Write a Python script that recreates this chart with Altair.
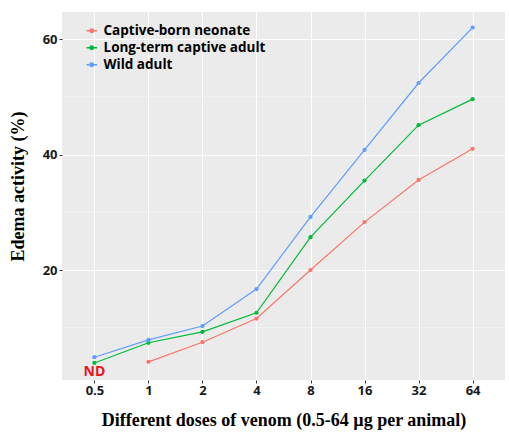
import altair as alt
import pandas as pd

# Venom doses (µg per animal) and edema activity (%) for each group
doses = ["0.5", "1", "2", "4", "8", "16", "32", "64"]
neonate = [None, 4.1, 7.5, 11.6, 20.0, 28.3, 35.6, 41.0]
captive_adult = [3.9, 7.4, 9.3, 12.6, 25.7, 35.5, 45.1, 49.6]
wild_adult = [4.9, 7.9, 10.3, 16.7, 29.2, 40.8, 52.4, 62.0]

groups = ["Captive-born neonate", "Long-term captive adult", "Wild adult"]
colors = ["#F8766D", "#00BA38", "#619CFF"]

minor_grid = [10, 30, 50]
major_ticks = [20, 40, 60]

rows = []
for name, vals in zip(groups, [neonate, captive_adult, wild_adult]):
    for d, v in zip(doses, vals):
        if v is not None:
            rows.append({"dose": d, "edema": v, "group": name})
df = pd.DataFrame(rows)

nd_df = pd.DataFrame({"dose": ["0.5"], "edema": [2.4], "label": ["ND"]})
minor_df = pd.DataFrame({"y": minor_grid})

FONT = "Open Sans"
SERIF = "Liberation Serif"

x_enc = alt.X(
    "dose:O",
    sort=doses,
    scale=alt.Scale(type="point", padding=0.6),
    axis=alt.Axis(
        title="Different doses of venom (0.5-64 µg per animal)",
        labelAngle=0,
        labelFont=FONT,
        labelFontWeight="bold",
        labelFontSize=13,
        labelColor="#1a1a1a",
        labelPadding=1,
        tickSize=3,
        tickColor="#333333",
        domain=False,
        grid=True,
        gridColor="white",
        gridWidth=1.1,
        titleFont=SERIF,
        titleFontSize=18,
        titleFontWeight="bold",
        titleColor="black",
        titlePadding=14,
    ),
)
y_scale = alt.Scale(domain=[0.95, 64.7], nice=False, zero=False)
y_enc = alt.Y(
    "edema:Q",
    scale=y_scale,
    axis=alt.Axis(
        title="Edema activity (%)",
        values=major_ticks,
        labelFont=FONT,
        labelFontWeight="bold",
        labelFontSize=13,
        labelColor="#1a1a1a",
        labelPadding=2,
        tickSize=3,
        tickColor="#333333",
        domain=False,
        grid=True,
        gridColor="white",
        gridWidth=1.1,
        titleFont=SERIF,
        titleFontSize=18,
        titleFontWeight="bold",
        titleColor="black",
        titleX=-35,
        titleY=174,
    ),
)

minor = alt.Chart(minor_df).mark_rule(color="white", strokeWidth=0.5).encode(
    y=alt.Y("y:Q", scale=y_scale)
)

lines = alt.Chart(df).mark_line(strokeWidth=1.2, point=alt.OverlayMarkDef(size=18, filled=True)).encode(
    x=x_enc,
    y=y_enc,
    color=alt.Color(
        "group:N",
        sort=groups,
        scale=alt.Scale(domain=groups, range=colors),
        legend=alt.Legend(
            title=None,
            orient="none",
            legendX=23,
            legendY=12,
            labelFont=FONT,
            labelFontWeight="bold",
            labelFontSize=13.5,
            labelColor="black",
            labelLimit=400,
            symbolType="M-1,0H1M0.35,0A0.35,0.35 0 1,1 -0.35,0A0.35,0.35 0 1,1 0.35,0",
            symbolSize=110,
            symbolStrokeWidth=1.3,
            rowPadding=2,
            labelOffset=5,
        ),
    ),
)

nd = alt.Chart(nd_df).mark_text(
    color="#E8141C", font=FONT, fontWeight="bold", fontSize=14, baseline="middle"
).encode(x=alt.X("dose:O", sort=doses), y=alt.Y("edema:Q", scale=y_scale), text="label:N")

chart = (
    alt.layer(minor, lines, nd)
    .properties(
        width=443,
        height=368,
        autosize=alt.AutoSizeParams(type="none"),
        padding={"left": 62, "top": 12, "right": 4, "bottom": 53},
        background="white",
    )
    .configure_view(fill="#EBEBEB", stroke=None)
)

chart.save("out.html", embed_options={"renderer": "svg", "actions": False})
